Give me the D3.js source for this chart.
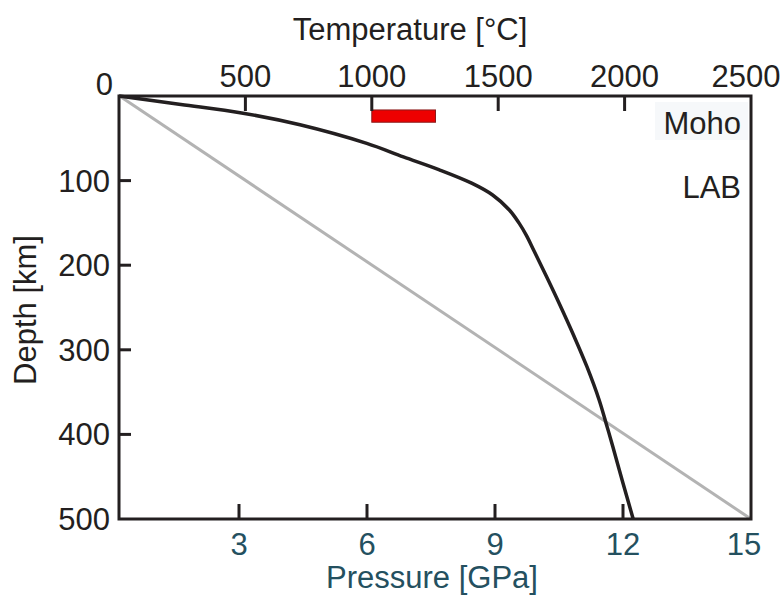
<!DOCTYPE html>
<html>
<head>
<meta charset="utf-8">
<title>Geotherm</title>
<script src="https://cdnjs.cloudflare.com/ajax/libs/d3/7.8.5/d3.min.js"></script>
<style>
  body { margin: 0; background: #fff; }
  svg { font-family: "Liberation Sans", Arial, sans-serif; }
</style>
</head>
<body>
<svg id="chart" width="783" height="595"></svg>
<script>
// tick values
var tempTicks = [500, 1000, 1500, 2000, 2500];
var depthTicks = [0, 100, 200, 300, 400, 500];
var pressTicks = [3, 6, 9, 12, 15];

// geotherm (temperature in C vs depth in km)
var geoDepth = [0, 10, 20, 34, 56, 72, 87, 103, 117, 135, 150, 165, 182, 214, 245, 284, 320, 359, 387, 414, 458, 500];
var geoTemp  = [0, 245, 485, 716, 980, 1125, 1265, 1395, 1478, 1545, 1582, 1612, 1640, 1692, 1741, 1800, 1851, 1899, 1927, 1953, 1994, 2034];

// pressure vs depth reference line
var refPress = [0.2, 15];
var refDepth = [0, 500];

// red bar (temperature range at crustal depth)
var barTemp = [1000, 1252];
var barDepth = [16.5, 31];

// boundary labels
var boundNames = ["Moho", "LAB"];
var boundDepth = [45, 121];

var ink = "#231f20";
var teal = "#24505f";
var fs = 31;
var pL = 119, pT = 96, pR = 751, pB = 519;

var svg = d3.select("#chart");

var x = d3.scaleLinear().domain([0, 2500]).range([pL, pR]);
var y = d3.scaleLinear().domain([0, 500]).range([pT, pB]);
var xp = d3.scaleLinear().domain([0, 15]).range([111, pR]);

// moho label backdrop
svg.append("rect")
  .attr("x", 655).attr("y", 102)
  .attr("width", 93).attr("height", 38)
  .attr("fill", "#f6f8fa");

// gray reference line
var refPts = refPress.map(function(p, i) { return [p, refDepth[i]]; });
svg.append("path")
  .datum(refPts)
  .attr("fill", "none")
  .attr("stroke", "#b3b3b3")
  .attr("stroke-width", 3)
  .attr("d", d3.line().x(function(d) { return xp(d[0]); }).y(function(d) { return y(d[1]); }));

// geotherm
var geoPts = geoTemp.map(function(t, i) { return [t, geoDepth[i]]; });
svg.append("path")
  .datum(geoPts)
  .attr("fill", "none")
  .attr("stroke", ink)
  .attr("stroke-width", 3.5)
  .attr("stroke-linejoin", "round")
  .attr("d", d3.line().curve(d3.curveCatmullRom.alpha(0.5))
    .x(function(d) { return x(d[0]); }).y(function(d) { return y(d[1]); }));

// red bar
svg.append("rect")
  .attr("x", x(barTemp[0])).attr("y", y(barDepth[0]))
  .attr("width", x(barTemp[1]) - x(barTemp[0]))
  .attr("height", y(barDepth[1]) - y(barDepth[0]))
  .attr("fill", "#ee0000")
  .attr("stroke", "#8a1c1c")
  .attr("stroke-width", 1);

// frame
svg.append("rect")
  .attr("x", pL).attr("y", pT)
  .attr("width", pR - pL).attr("height", pB - pT)
  .attr("fill", "none")
  .attr("stroke", ink)
  .attr("stroke-width", 3);

// ticks, all pointing inward
svg.selectAll(".ttick").data(tempTicks.slice(0, -1)).enter().append("line")
  .attr("x1", function(d) { return x(d); }).attr("x2", function(d) { return x(d); })
  .attr("y1", pT).attr("y2", pT + 15)
  .attr("stroke", ink).attr("stroke-width", 3);

svg.selectAll(".dtick").data(depthTicks.slice(1, -1)).enter().append("line")
  .attr("x1", pL).attr("x2", pL + 12)
  .attr("y1", function(d) { return y(d); }).attr("y2", function(d) { return y(d); })
  .attr("stroke", ink).attr("stroke-width", 3);

svg.selectAll(".ptick").data(pressTicks.slice(0, -1)).enter().append("line")
  .attr("x1", function(d) { return xp(d); }).attr("x2", function(d) { return xp(d); })
  .attr("y1", pB).attr("y2", pB - 15)
  .attr("stroke", ink).attr("stroke-width", 3);

// tick labels
svg.selectAll(".tlab").data(tempTicks).enter().append("text")
  .attr("x", function(d) { return Math.min(x(d), 746); })
  .attr("y", 87)
  .attr("text-anchor", "middle")
  .attr("font-size", fs)
  .attr("fill", ink)
  .text(function(d) { return d; });

svg.selectAll(".dlab").data(depthTicks).enter().append("text")
  .attr("x", function(d) { return d === 0 ? 113 : 110; })
  .attr("y", function(d) { return d === 0 ? y(d) - 1 : y(d) + 11; })
  .attr("text-anchor", "end")
  .attr("font-size", fs)
  .attr("fill", ink)
  .text(function(d) { return d; });

svg.selectAll(".plab").data(pressTicks).enter().append("text")
  .attr("x", function(d) { return Math.min(xp(d), 744); })
  .attr("y", 555)
  .attr("text-anchor", "middle")
  .attr("font-size", fs)
  .attr("fill", teal)
  .text(function(d) { return d; });

// boundary labels
svg.selectAll(".blab").data(boundNames).enter().append("text")
  .attr("x", 741)
  .attr("y", function(d, i) { return y(boundDepth[i]); })
  .attr("text-anchor", "end")
  .attr("font-size", fs)
  .attr("fill", ink)
  .text(function(d) { return d; });

// axis titles
svg.append("text")
  .attr("x", 410).attr("y", 40)
  .attr("text-anchor", "middle")
  .attr("font-size", fs)
  .attr("fill", ink)
  .text("Temperature [°C]");

svg.append("text")
  .attr("x", 432).attr("y", 588)
  .attr("text-anchor", "middle")
  .attr("font-size", fs)
  .attr("fill", teal)
  .text("Pressure [GPa]");

svg.append("text")
  .attr("transform", "translate(36,310) rotate(-90)")
  .attr("text-anchor", "middle")
  .attr("font-size", fs)
  .attr("fill", ink)
  .text("Depth [km]");
</script>
</body>
</html>
